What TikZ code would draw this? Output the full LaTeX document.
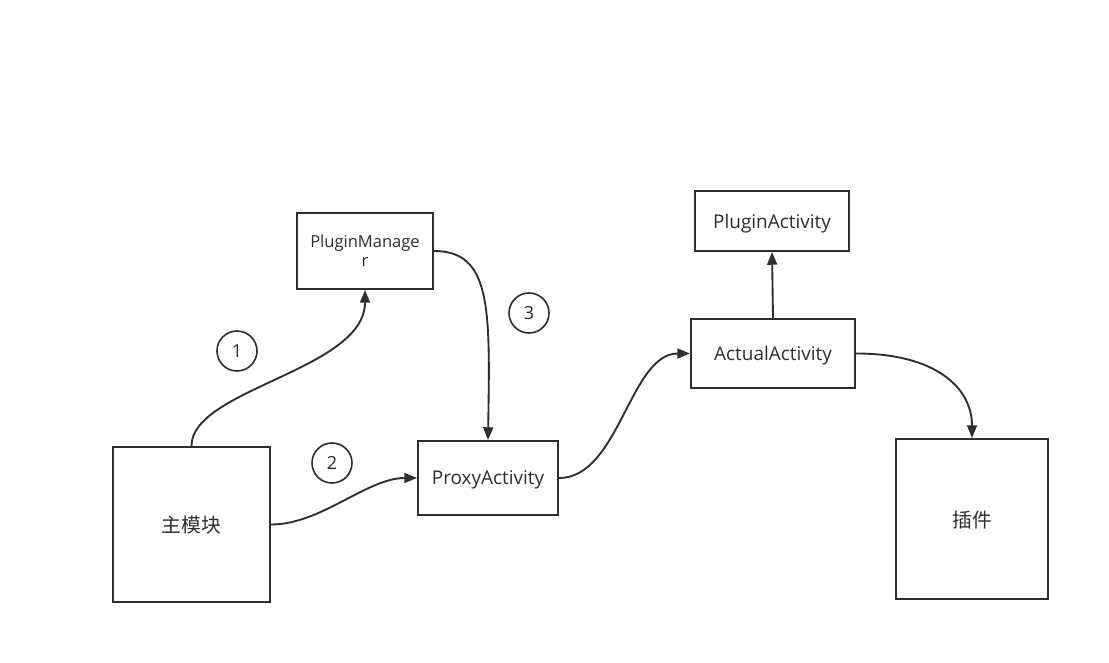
\documentclass[tikz,border=0pt]{standalone}
\usepackage{fontspec}
\setmainfont{Open Sans}
\newfontfamily\cjk{Noto Sans CJK SC}
\usetikzlibrary{arrows.meta}
\definecolor{ink}{HTML}{2E2E2E}
\tikzset{
	box/.style={draw=ink, line width=1.6pt, text=ink, inner sep=0pt, text depth=0pt, font=\fontsize{14.2}{16}\selectfont},
	num/.style={draw=ink, circle, line width=1.2pt, minimum size=30pt, inner sep=0pt, text=ink, font=\fontsize{13.5}{16}\selectfont},
	flow/.style={draw=ink, line width=1.4pt, -{Triangle[length=9.5pt,width=7.5pt]}}
}

\begin{document}
\begin{tikzpicture}[x=0.75pt,y=-0.75pt]
			%%%%% START %%%%%
			
			\useasboundingbox[fill=white] (0,0) rectangle (1109,663);
			
			\node[box, minimum width=117.75pt, minimum height=116.25pt, font=\fontsize{14.8}{16}\cjk] (main) at (191.5, 524.5) {主模块};
			\node[box, minimum width=102pt, minimum height=57pt, align=center, font=\fontsize{12.4}{14.5}\selectfont] (pm) at (365, 251) {PluginManage\\r};
			\node[box, minimum width=105pt, minimum height=55.5pt] (proxy) at (488, 478) {ProxyActivity};
			\node[box, minimum width=115.5pt, minimum height=45pt] (pa) at (772, 221) {PluginActivity};
			\node[box, minimum width=123pt, minimum height=51.75pt] (aa) at (773, 353.5) {ActualActivity};
			\node[box, minimum width=114pt, minimum height=120pt, font=\fontsize{14.8}{16}\cjk] (plug) at (972, 519) {插件};
			
			\node[num] (c1) at (237, 351) {1};
			\node[num] (c2) at (332, 463) {2};
			\node[num] (c3) at (529, 313) {3};
			
			\draw[flow] (main.north) .. controls +(0, -57) and +(0, 80) .. (pm.south);
			\draw[flow] (main.east) .. controls +(50, 0) and +(-50, 0) .. (proxy.west);
			\draw[flow] (pm.east) .. controls +(58, 0) and +(2, -130) .. (proxy.north);
			\draw[flow] (proxy.east) .. controls +(60, 0) and +(-60, 0) .. (aa.west);
			\draw[flow] (aa.north) -- (pa.south);
			\draw[flow] (aa.east) .. controls +(80, 0) and +(0, -50) .. (plug.north);
			
			%%%%% END %%%%%
\end{tikzpicture}
\end{document}
